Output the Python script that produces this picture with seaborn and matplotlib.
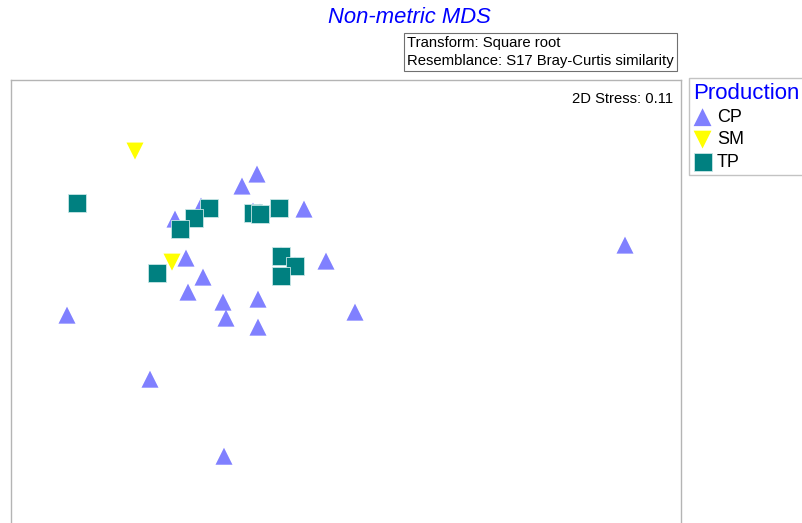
import pandas as pd
import matplotlib
matplotlib.use('Agg')
import matplotlib.pyplot as plt
import seaborn as sns

# MDS coordinates (arbitrary units)
cp_x = [257, 242, 201, 175, 304, 253, 260, 278, 186, 203, 188, 223, 226, 258,
        258, 326, 355, 67, 150, 224, 625, 281, 295]
cp_y = [174, 186, 206, 219, 209, 211, 212, 208, 258, 277, 292, 302, 318, 299,
        327, 261, 312, 315, 379, 456, 245, 255, 265]
sm_x = [135, 172]
sm_y = [151, 262]
tp_x = [77, 209, 194, 180, 253, 260, 279, 157, 281, 295, 281]
tp_y = [203, 208, 218, 229, 213, 214, 208, 273, 256, 266, 276]

df = pd.DataFrame({
    'MDS1': cp_x + sm_x + tp_x,
    'MDS2': cp_y + sm_y + tp_y,
    'Production': ['CP'] * len(cp_x) + ['SM'] * len(sm_x) + ['TP'] * len(tp_x),
})

sns.set_style('white')
plt.rcParams['font.family'] = ['Liberation Sans', 'DejaVu Sans']
plt.rcParams['text.color'] = 'black'

fig = plt.figure(figsize=(8.03, 5.23), dpi=100)
ax = fig.add_axes([11 / 803, -0.1, 670 / 803, 0.847 + 0.1])

palette = {'CP': '#8080ff', 'SM': '#ffff00', 'TP': '#008080'}
markers = {'CP': '^', 'SM': 'v', 'TP': 's'}
sizes = {'CP': 150, 'SM': 150, 'TP': 160}
for grp in ['CP', 'SM', 'TP']:
    sub = df[df['Production'] == grp]
    sns.scatterplot(data=sub, x='MDS1', y='MDS2', color=palette[grp],
                    marker=markers[grp], s=sizes[grp], edgecolor='#c8e6e6' if grp == 'TP' else 'none',
                    linewidth=0.6, ax=ax, label=grp, zorder=3 if grp == 'TP' else 2)

ax.set_xlim(11, 681)
ax.set_ylim(575, 80)
ax.set_xticks([])
ax.set_yticks([])
ax.set_xlabel('')
ax.set_ylabel('')
for sp in ax.spines.values():
    sp.set_color('#b4b4b4')
    sp.set_linewidth(1)

ax.text(0.988, 0.975, '2D Stress: 0.11', transform=ax.transAxes,
        ha='right', va='top', fontsize=10.6, color='black')

fig.text(409 / 803, 1 - 7 / 523, 'Non-metric MDS', ha='center', va='top',
         fontsize=15.8, style='italic', color='#0000ff')
fig.text(407 / 803, 1 - 36 / 523, 'Transform: Square root\nResemblance: S17 Bray-Curtis similarity',
         ha='left', va='top', fontsize=10.7, linespacing=1.4, color='black',
         bbox=dict(boxstyle='square,pad=0.2', fc='white', ec='#707070', lw=0.8))

leg = ax.legend(loc='upper left', bbox_to_anchor=(689 / 803, 1 - 78 / 523),
                bbox_transform=fig.transFigure, title='Production', fontsize=13,
                title_fontsize=16, frameon=True, fancybox=False, borderpad=0.25,
                handletextpad=0.3, labelspacing=0.3, handlelength=1.0,
                borderaxespad=0, markerscale=1.05)
leg.get_title().set_color('#0000ff')
for t in leg.get_texts():
    t.set_color('black')
leg._legend_box.align = 'left'
leg.get_frame().set_edgecolor('#b4b4b4')
leg.get_frame().set_linewidth(1)

fig.savefig('out.png', dpi=100)
